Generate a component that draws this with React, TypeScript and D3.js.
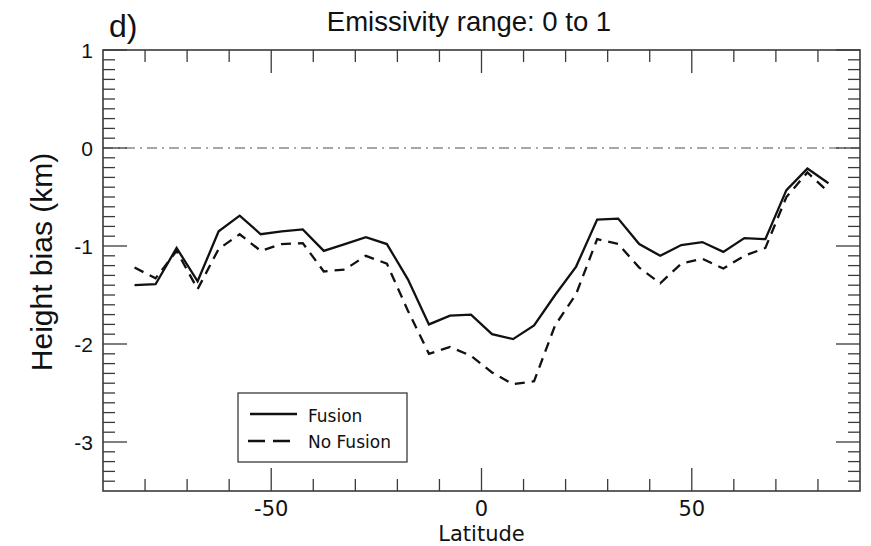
import React from "react";
import * as d3 from "d3";

const latitudes = [
  -82.5, -77.5, -72.5, -67.5, -62.5, -57.5, -52.5, -47.5, -42.5, -37.5, -32.5, -27.5,
  -22.5, -17.5, -12.5, -7.5, -2.5, 2.5, 7.5, 12.5, 17.5, 22.5, 27.5, 32.5, 37.5, 42.5,
  47.5, 52.5, 57.5, 62.5, 67.5, 72.5, 77.5, 82.5,
];
const fusion = [
  -1.4, -1.39, -1.02, -1.36, -0.85, -0.69, -0.88, -0.85, -0.83, -1.05, -0.98, -0.91,
  -0.98, -1.34, -1.8, -1.71, -1.7, -1.9, -1.95, -1.81, -1.5, -1.21, -0.73, -0.72, -0.98,
  -1.1, -0.99, -0.96, -1.06, -0.92, -0.93, -0.43, -0.21, -0.36,
];
const noFusion = [
  -1.22, -1.33, -1.05, -1.44, -1.03, -0.88, -1.05, -0.98, -0.97, -1.26, -1.24, -1.1,
  -1.18, -1.66, -2.1, -2.03, -2.12, -2.29, -2.41, -2.38, -1.81, -1.49, -0.93, -0.98,
  -1.22, -1.38, -1.18, -1.13, -1.23, -1.1, -1.02, -0.5, -0.25, -0.45,
];
const xMajorTicks = [-50, 0, 50];
const yMajorTicks = [1, 0, -1, -2, -3];
const legendLabels = ["Fusion", "No Fusion"];

const W = 871;
const H = 546;
const L = 103, R = 860, T = 50, B = 491;

export default function App() {
  const x = d3.scaleLinear().domain([-90, 90]).range([L, R]);
  const y = d3.scaleLinear().domain([-3.5, 1]).range([B, T]);
  const line = d3
    .line<number>()
    .x((_, i) => x(latitudes[i]))
    .y((v) => y(v));

  const xMinor = d3.range(-80, 81, 10).filter((v) => v % 50 !== 0);
  const yMinor = d3.range(-34, 10, 1).map((v) => v / 10).filter((v) => Math.abs(v - Math.round(v)) > 1e-6);

  const axisColor = "#3a3a3a";
  const dv = "'DejaVu Sans', Verdana, sans-serif";
  const hv = "'Liberation Sans', Arial, Helvetica, sans-serif";

  return (
    <svg width={W} height={H} style={{ position: "absolute", left: 0, top: 0, background: "#fff" }}>
      {/* zero line */}
      <line x1={L} x2={R} y1={y(0)} y2={y(0)} stroke="#8a8a8a" strokeWidth={1.4} strokeDasharray="10,5,2,5" />

      {/* ticks */}
      <g stroke={axisColor} strokeWidth={1.3}>
        {xMinor.map((v) => (
          <g key={"xm" + v}>
            <line x1={x(v)} x2={x(v)} y1={B} y2={B - 12} />
            <line x1={x(v)} x2={x(v)} y1={T} y2={T + 12} />
          </g>
        ))}
        {xMajorTicks.map((v) => (
          <g key={"xM" + v}>
            <line x1={x(v)} x2={x(v)} y1={B} y2={B - 23} />
            <line x1={x(v)} x2={x(v)} y1={T} y2={T + 23} />
          </g>
        ))}
        {yMinor.map((v) => (
          <g key={"ym" + v}>
            <line x1={L} x2={L + 12} y1={y(v)} y2={y(v)} />
            <line x1={R} x2={R - 12} y1={y(v)} y2={y(v)} />
          </g>
        ))}
        {yMajorTicks.map((v) => (
          <g key={"yM" + v}>
            <line x1={L} x2={L + 24} y1={y(v)} y2={y(v)} />
            <line x1={R} x2={R - 24} y1={y(v)} y2={y(v)} />
          </g>
        ))}
      </g>

      {/* data */}
      <path d={line(noFusion) || ""} fill="none" stroke="#111" strokeWidth={2.3} strokeDasharray="10,7" />
      <path d={line(fusion) || ""} fill="none" stroke="#111" strokeWidth={2.3} />

      {/* frame */}
      <rect x={L} y={T} width={R - L} height={B - T} fill="none" stroke={axisColor} strokeWidth={1.6} />

      {/* tick labels */}
      {xMajorTicks.map((v) => (
        <text key={"xl" + v} x={x(v)} y={516} textAnchor="middle" fontFamily={dv} fontSize={21} fill="#111">
          {v}
        </text>
      ))}
      {yMajorTicks.map((v) => (
        <text key={"yl" + v} x={93} y={y(v)} dy="0.36em" textAnchor="end" fontFamily={hv} fontSize={21} fill="#111">
          {v}
        </text>
      ))}

      <text x={(L + R) / 2} y={541} textAnchor="middle" fontFamily={dv} fontSize={21} fill="#111">
        Latitude
      </text>
      <text
        transform={`translate(52,${262}) rotate(-90)`}
        textAnchor="middle"
        fontFamily={hv}
        fontSize={30}
        fill="#111"
      >
        Height bias (km)
      </text>
      <text x={469} y={31} textAnchor="middle" fontFamily={hv} fontSize={27.5} fill="#111">
        Emissivity range: 0 to 1
      </text>
      <text x={109} y={37} fontFamily={hv} fontSize={32} fill="#111">
        d)
      </text>

      {/* legend */}
      <rect x={238} y={393} width={169} height={69} fill="#fff" stroke={axisColor} strokeWidth={1.3} />
      <line x1={250} x2={297} y1={414} y2={414} stroke="#111" strokeWidth={2.5} />
      <line x1={248} x2={297} y1={441} y2={441} stroke="#111" strokeWidth={2.5} strokeDasharray="17,8" />
      <text x={308} y={421.5} fontFamily={dv} fontSize={17} fill="#111">
        {legendLabels[0]}
      </text>
      <text x={308} y={447.5} fontFamily={dv} fontSize={17} fill="#111">
        {legendLabels[1]}
      </text>
    </svg>
  );
}
